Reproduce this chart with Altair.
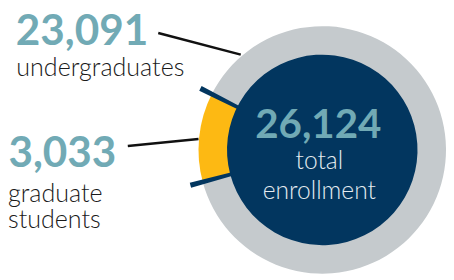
import math
import altair as alt
import pandas as pd

# ---- data ----
groups = ["graduate students", "undergraduates"]
counts = [3033, 23091]
total = sum(counts)

number_labels = ["3,033", "23,091"]
total_label = "26,124"

# ---- styling ----
NAVY = "#02365f"
GRAY = "#c5cacd"
GOLD = "#fdb913"
TEAL = "#71aab5"
FONT = "Lato"

CX, CY = 320, 142
R_OUT, R_IN = 126, 97
start = math.radians(255.0)

cum = [0]
for c in counts:
    cum.append(cum[-1] + c)

ring = pd.DataFrame({
    "group": groups,
    "t0": cum[:-1],
    "t1": cum[1:],
})
theta_scale = alt.Scale(domain=[0, total], range=[start, start + 2 * math.pi])

ring_layer = alt.Chart(ring).mark_arc(radius=R_OUT, radius2=0, strokeWidth=0).encode(
    theta=alt.Theta("t0:Q", scale=theta_scale),
    theta2="t1:Q",
    color=alt.Color("group:N", scale=alt.Scale(domain=groups, range=[GOLD, GRAY]), legend=None),
    x=alt.value(CX), y=alt.value(CY),
)

center_df = pd.DataFrame({"t0": [0], "t1": [total]})
center_layer = alt.Chart(center_df).mark_arc(radius=R_IN, radius2=0, color=NAVY).encode(
    theta=alt.Theta("t0:Q", scale=theta_scale),
    theta2="t1:Q",
    x=alt.value(CX), y=alt.value(CY),
)

# boundary ticks around the graduate segment
half = total * 1.1 / 360
ticks = pd.DataFrame({"b": [cum[0], cum[1]]})
ticks["t0"] = ticks["b"] - half
ticks["t1"] = ticks["b"] + half
tick_layer = alt.Chart(ticks).mark_arc(radius=139, radius2=95, color=NAVY).encode(
    theta=alt.Theta("t0:Q", scale=theta_scale),
    theta2="t1:Q",
    x=alt.value(CX), y=alt.value(CY),
)

def rule(x1, y1, x2, y2):
    return alt.Chart(pd.DataFrame({"a": [0]})).mark_rule(color="#111111", strokeWidth=2.5).encode(
        x=alt.value(x1), y=alt.value(y1), x2=alt.value(x2), y2=alt.value(y2)
    )

def text(t, x, y, size, color, weight, align="left"):
    return alt.Chart(pd.DataFrame({"t": [t]})).mark_text(
        font=FONT, fontSize=size, fontWeight=weight, color=color, align=align,
        baseline="alphabetic",
    ).encode(text="t:N", x=alt.value(x), y=alt.value(y))

layers = [
    ring_layer,
    center_layer,
    tick_layer,
    rule(153, 23, 237, 45),
    rule(122, 138, 194, 131),
    text(number_labels[1], 8, 35, 43, TEAL, "bold"),
    text("undergraduates", 8.5, 67, 25.5, "#1a1a1a", 300),
    text(number_labels[0], 0.5, 159, 43, TEAL, "bold"),
    text("graduate", 0, 195, 25.5, "#1a1a1a", 300),
    text("students", 0, 222, 25.5, "#1a1a1a", 300),
    text(total_label, 316, 130, 41, TEAL, "bold", "center"),
    text("total", 317, 161, 25, "#e4ebf1", 300, "center"),
    text("enrollment", 317, 192, 25, "#e4ebf1", 300, "center"),
]

chart = alt.layer(*layers).properties(
    width=446, height=272, padding=0, background="white",
    autosize=alt.AutoSizeParams(type="none"),
).configure_view(strokeWidth=0, stroke="transparent")

chart.save("out.html", embed_options={"renderer": "svg", "actions": False})
